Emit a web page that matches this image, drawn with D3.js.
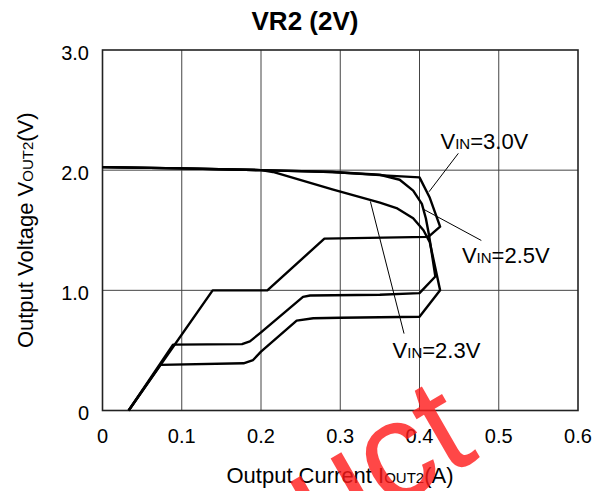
<!DOCTYPE html>
<html>
<head>
<meta charset="utf-8">
<script src="https://cdn.jsdelivr.net/npm/d3@7"></script>
<style>
  body { margin: 0; background: #fff; }
  svg { display: block; font-family: Arial, "Liberation Sans", sans-serif; }
</style>
</head>
<body>
<svg width="609" height="491"></svg>
<script>
// VR2 (2V) output voltage vs output current, three input voltages

var xTicks = [0, 0.1, 0.2, 0.3, 0.4, 0.5, 0.6];
var xTickLabels = ["0", "0.1", "0.2", "0.3", "0.4", "0.5", "0.6"];
var yTicks = [0, 1, 2, 3];
var yTickLabels = ["0", "1.0", "2.0", "3.0"];

// [Iout (A), Vout (V)]
var vin30 = [[0, 2.025], [0.1, 2.015], [0.2, 2.0], [0.29, 1.985], [0.36, 1.955], [0.4, 1.94],
  [0.413, 1.77], [0.426, 1.53], [0.413, 1.455], [0.41, 1.445], [0.28, 1.43],
  [0.208, 1.0], [0.139, 1.0], [0.033, 0]];
var vin25 = [[0, 2.025], [0.1, 2.015], [0.2, 2.0], [0.29, 1.985], [0.35, 1.962], [0.375, 1.92],
  [0.392, 1.83], [0.403, 1.72], [0.408, 1.6], [0.412, 1.46], [0.42, 1.115], [0.4, 0.977],
  [0.35, 0.963], [0.262, 0.957], [0.253, 0.945], [0.2, 0.65], [0.186, 0.575], [0.176, 0.552],
  [0.089, 0.548], [0.033, 0]];
var vin23 = [[0, 2.025], [0.1, 2.015], [0.2, 2.0], [0.215, 1.985], [0.29, 1.84], [0.35, 1.73],
  [0.371, 1.685], [0.392, 1.6], [0.405, 1.5], [0.413, 1.4], [0.426, 1.0], [0.4, 0.78],
  [0.3, 0.772], [0.266, 0.768], [0.245, 0.748], [0.2, 0.49], [0.19, 0.42], [0.178, 0.393],
  [0.073, 0.38], [0.033, 0]];

// label text, anchor point of label, end of leader line (data units)
var notes = [
  {name: "3.0V", at: [0.4265, 2.18], from: [0.449, 2.14], to: [0.412, 1.82]},
  {name: "2.5V", at: [0.4535, 1.225], from: [0.478, 1.415], to: [0.405, 1.675]},
  {name: "2.3V", at: [0.366, 0.435], from: [0.3805, 0.64], to: [0.338, 1.74]}
];

var svg = d3.select("svg"),
  x = d3.scaleLinear().domain([0, 0.6]).range([102.5, 578]),
  y = d3.scaleLinear().domain([0, 3]).range([410.5, 50]);

// griglia
svg.append("g").selectAll("line")
  .data(xTicks.slice(1, -1))
  .join("line")
  .attr("x1", function(d) { return x(d); })
  .attr("x2", function(d) { return x(d); })
  .attr("y1", y(0)).attr("y2", y(3))
  .attr("stroke", "#444").attr("stroke-width", 1);
svg.append("g").selectAll("line")
  .data(yTicks.slice(1, -1))
  .join("line")
  .attr("y1", function(d) { return y(d); })
  .attr("y2", function(d) { return y(d); })
  .attr("x1", x(0)).attr("x2", x(0.6))
  .attr("stroke", "#444").attr("stroke-width", 1);

svg.append("rect")
  .attr("x", x(0)).attr("y", y(3))
  .attr("width", x(0.6) - x(0)).attr("height", y(0) - y(3))
  .attr("fill", "none").attr("stroke", "#222").attr("stroke-width", 1.6);

// tick labels
svg.append("g").selectAll("text")
  .data(xTicks)
  .join("text")
  .attr("x", function(d) { return x(d); })
  .attr("y", 443)
  .attr("text-anchor", "middle")
  .attr("font-size", 20)
  .text(function(d, i) { return xTickLabels[i]; });
svg.append("g").selectAll("text")
  .data(yTicks)
  .join("text")
  .attr("x", 89)
  .attr("y", function(d) { return y(d) + 9.5; })
  .attr("text-anchor", "end")
  .attr("font-size", 20)
  .text(function(d, i) { return yTickLabels[i]; });

// curve
var line = d3.line()
  .x(function(d) { return x(d[0]); })
  .y(function(d) { return y(d[1]); });

svg.append("g").selectAll("path")
  .data([vin30, vin25, vin23])
  .join("path")
  .attr("d", line)
  .attr("fill", "none")
  .attr("stroke", "#000")
  .attr("stroke-width", 2.4)
  .attr("stroke-linejoin", "round");

// etichette
svg.append("g").selectAll("line")
  .data(notes)
  .join("line")
  .attr("x1", function(d) { return x(d.from[0]); })
  .attr("y1", function(d) { return y(d.from[1]); })
  .attr("x2", function(d) { return x(d.to[0]); })
  .attr("y2", function(d) { return y(d.to[1]); })
  .attr("stroke", "#000").attr("stroke-width", 1);

var lab = svg.append("g").selectAll("text")
  .data(notes)
  .join("text")
  .attr("x", function(d) { return x(d.at[0]); })
  .attr("y", function(d) { return y(d.at[1]); })
  .attr("font-size", 22);
lab.append("tspan").text("V");
lab.append("tspan").attr("font-size", 15).text("IN");
lab.append("tspan").text(function(d) { return "=" + d.name; });

// titoli
svg.append("text")
  .attr("x", 305).attr("y", 30)
  .attr("text-anchor", "middle")
  .attr("font-size", 26).attr("font-weight", "bold")
  .text("VR2 (2V)");

var xt = svg.append("text")
  .attr("x", 340).attr("y", 483)
  .attr("text-anchor", "middle")
  .attr("font-size", 22);
xt.append("tspan").text("Output Current I");
xt.append("tspan").attr("font-size", 15).text("OUT2");
xt.append("tspan").text("(A)");

var yt = svg.append("text")
  .attr("transform", "translate(33," + y(1.5) + ") rotate(-90)")
  .attr("text-anchor", "middle")
  .attr("font-size", 22);
yt.append("tspan").text("Output Voltage V");
yt.append("tspan").attr("font-size", 15).text("OUT2");
yt.append("tspan").text("(V)");

// watermark
svg.append("text")
  .attr("transform", "translate(481,457) rotate(-30)")
  .attr("text-anchor", "end")
  .attr("font-size", 140)
  .attr("fill", "#ff1a1a").attr("opacity", 0.8)
  .text("uct");
</script>
</body>
</html>
